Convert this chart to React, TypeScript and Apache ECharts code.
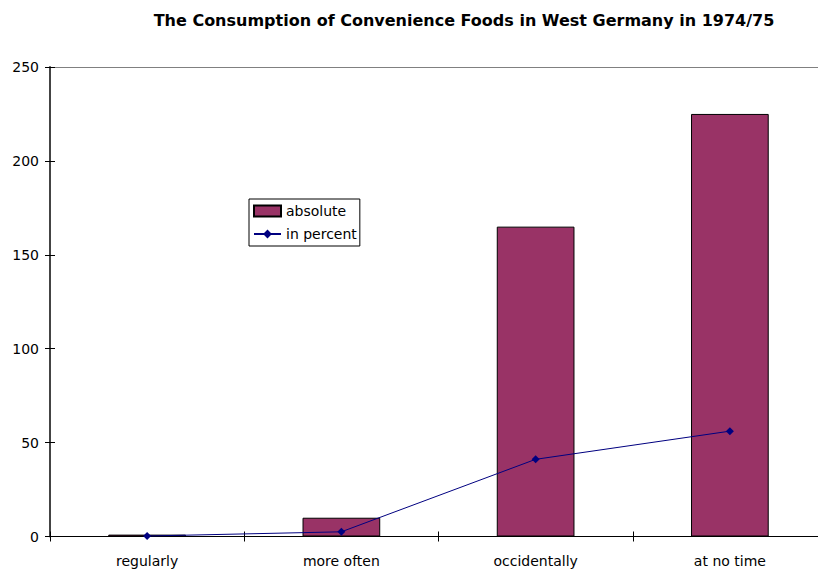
import React, { useEffect, useRef } from "react";
import * as echarts from "echarts";

const categories = ["regularly", "more often", "occidentally", "at no time"];
const absoluteValues = [1, 10, 165, 225];
const percentValues = [0.25, 2.5, 41.1, 56.1];
const yTicks = { min: 0, max: 250, interval: 50 };
const titleText = "The Consumption of Convenience Foods in West Germany in 1974/75";

const FONT = "DejaVu Sans";

export default function App() {
  const ref = useRef<HTMLDivElement>(null);
  useEffect(() => {
    if (!ref.current) return;
    const chart = echarts.init(ref.current, undefined, { renderer: "svg" });
    chart.setOption({
      animation: false,
      backgroundColor: "#ffffff",
      title: {
        text: titleText,
        left: 459,
        textAlign: "center",
        top: 7,
        textStyle: { fontFamily: FONT, fontSize: 16, fontWeight: "bold", color: "#000" },
      },
      legend: {
        orient: "vertical",
        left: 249,
        top: 199,
        borderColor: "#000",
        borderWidth: 1,
        backgroundColor: "#fff",
        padding: [5, 3, 5, 4],
        itemWidth: 27,
        itemHeight: 11,
        itemGap: 9,
        textStyle: { fontFamily: FONT, fontSize: 14, color: "#000" },
        data: [
          { name: "absolute", icon: "rect" },
          { name: "in percent" },
        ],
      },
      grid: { left: 50, top: 67, width: 777, height: 469.5 },
      xAxis: [
        {
          type: "category",
          data: categories,
          position: "bottom",
          axisLine: { lineStyle: { color: "#000", width: 1 } },
          axisTick: { show: true, length: 5, inside: false, lineStyle: { color: "#000" } },
          axisLabel: { fontFamily: FONT, fontSize: 14, color: "#000", margin: 17 },
        },
        {
          type: "category",
          data: categories,
          position: "bottom",
          axisLine: { show: false },
          axisTick: { show: true, length: 5, inside: true, lineStyle: { color: "#000" } },
          axisLabel: { show: false },
        },
        {
          type: "category",
          data: categories,
          position: "top",
          axisLine: { show: true, lineStyle: { color: "#808080", width: 1 } },
          axisTick: { show: false },
          axisLabel: { show: false },
        },
      ],
      yAxis: [
        {
          type: "value",
          min: yTicks.min,
          max: yTicks.max,
          interval: yTicks.interval,
          position: "left",
          axisLine: { show: true, lineStyle: { color: "#444", width: 2 } },
          axisTick: { show: true, length: 5, lineStyle: { color: "#000" } },
          axisLabel: { fontFamily: FONT, fontSize: 14, color: "#000", margin: 11 },
          splitLine: { show: false },
        },
        {
          type: "value",
          min: yTicks.min,
          max: yTicks.max,
          interval: yTicks.interval,
          position: "left",
          axisLine: { show: false },
          axisTick: { show: true, inside: true, length: 5, lineStyle: { color: "#000" } },
          axisLabel: { show: false },
          splitLine: { show: false },
        },
      ],
      series: [
        {
          name: "absolute",
          type: "bar",
          data: absoluteValues,
          barWidth: "40%",
          itemStyle: { color: "#993366", borderColor: "#000", borderWidth: 1 },
        },
        {
          name: "in percent",
          type: "line",
          data: percentValues,
          symbol: "diamond",
          symbolSize: 8,
          lineStyle: { color: "#000080", width: 1 },
          itemStyle: { color: "#000080" },
        },
      ],
    });
    return () => chart.dispose();
  }, []);
  return (
    <div style={{ position: "absolute", left: 0, top: 0, width: 818, height: 572, overflow: "hidden", background: "#fff" }}>
      <div ref={ref} style={{ width: 840, height: 572 }} />
    </div>
  );
}
